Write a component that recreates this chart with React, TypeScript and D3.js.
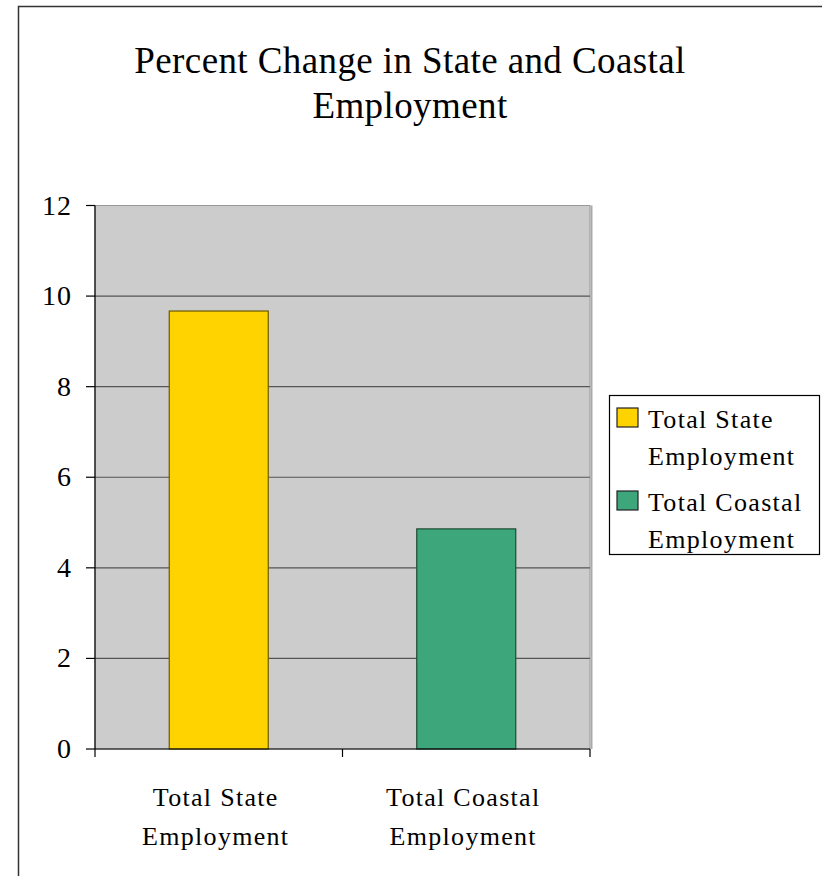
import React from "react";
import * as d3 from "d3";

const categories = ["Total State Employment", "Total Coastal Employment"];
const categoryLines = [["Total State", "Employment"], ["Total Coastal", "Employment"]];
const values = [9.67, 4.86];
const colors = ["#FFD300", "#3DA67B"];
const strokeColors = ["#6b5a00", "#1f4a35"];
const yTicks = [0, 2, 4, 6, 8, 10, 12];
const titleLines = ["Percent Change in State and Coastal", "Employment"];

const W = 822;
const H = 876;
const plot = { left: 95, right: 590, top: 205.5, bottom: 749 };
const font = "'Liberation Serif', 'Times New Roman', serif";

export default function App() {
  const y = d3.scaleLinear().domain([0, 12]).range([plot.bottom, plot.top]);
  const x = d3
    .scaleBand<string>()
    .domain(categories)
    .range([plot.left, plot.right])
    .paddingInner(0)
    .paddingOuter(0);
  const bw = x.bandwidth();
  const barW = bw * 0.4;
  const boundaries = [plot.left, plot.left + bw, plot.right];

  return (
    <svg
      width={W}
      height={H}
      style={{ position: "absolute", left: 0, top: 0, display: "block", background: "#fff" }}
      fontFamily={font}
    >
      {/* chart frame */}
      <path d={`M18.5,${H + 2} V6.5 H${W + 2}`} fill="none" stroke="#333" strokeWidth={1.5} />

      {/* title */}
      {titleLines.map((t, i) => (
        <text key={i} x={410} y={73 + i * 45} textAnchor="middle" fontSize={37} letterSpacing={0.4} fill="#000">
          {t}
        </text>
      ))}

      {/* plot area */}
      <rect
        x={plot.left}
        y={plot.top}
        width={plot.right - plot.left}
        height={plot.bottom - plot.top}
        fill="#cccccc"
        stroke="#999"
        strokeWidth={1}
      />
      <line x1={plot.right + 1.5} x2={plot.right + 1.5} y1={plot.top} y2={plot.bottom} stroke="#aaa" strokeWidth={2} />

      {/* gridlines */}
      {yTicks
        .filter((t) => t > 0 && t < 12)
        .map((t) => (
          <line key={t} x1={plot.left} x2={plot.right} y1={y(t)} y2={y(t)} stroke="#555" strokeWidth={1.2} />
        ))}

      {/* bars */}
      {categories.map((c, i) => {
        const cx = (x(c) as number) + bw / 2;
        return (
          <rect
            key={c}
            x={cx - barW / 2}
            y={y(values[i])}
            width={barW}
            height={plot.bottom - y(values[i])}
            fill={colors[i]}
            stroke={strokeColors[i]}
            strokeWidth={1.2}
          />
        );
      })}

      {/* y axis */}
      <line x1={plot.left} x2={plot.left} y1={plot.top} y2={plot.bottom} stroke="#000" strokeWidth={1.2} />
      {yTicks.map((t) => (
        <g key={t}>
          <line x1={plot.left - 9} x2={plot.left} y1={y(t)} y2={y(t)} stroke="#000" strokeWidth={1.2} />
          <text x={72} y={y(t) + 9} textAnchor="end" fontSize={28} letterSpacing={1} fill="#000">
            {t}
          </text>
        </g>
      ))}

      {/* x axis */}
      <line x1={plot.left} x2={plot.right} y1={plot.bottom} y2={plot.bottom} stroke="#000" strokeWidth={1.2} />
      {boundaries.map((bx, i) => (
        <line key={i} x1={bx} x2={bx} y1={plot.bottom} y2={plot.bottom + 8} stroke="#000" strokeWidth={1.2} />
      ))}
      {categories.map((c, i) => {
        const cx = (x(c) as number) + bw / 2 - 3;
        return (
          <g key={c}>
            {categoryLines[i].map((l, j) => (
              <text key={j} x={cx} y={806 + j * 39} textAnchor="middle" fontSize={26} letterSpacing={1.3} fill="#000">
                {l}
              </text>
            ))}
          </g>
        );
      })}

      {/* legend */}
      <rect x={609.5} y={395.5} width={210} height={159} fill="#fff" stroke="#000" strokeWidth={1.2} />
      {categories.map((c, i) => {
        const top = i === 0 ? 408 : 491;
        return (
          <g key={c}>
            <rect x={617} y={top} width={21} height={19} fill={colors[i]} stroke="#222" strokeWidth={1.2} />
            {categoryLines[i].map((l, j) => (
              <text key={j} x={648} y={top + 20 + j * 37} fontSize={26} letterSpacing={1.3} fill="#000">
                {l}
              </text>
            ))}
          </g>
        );
      })}
    </svg>
  );
}
